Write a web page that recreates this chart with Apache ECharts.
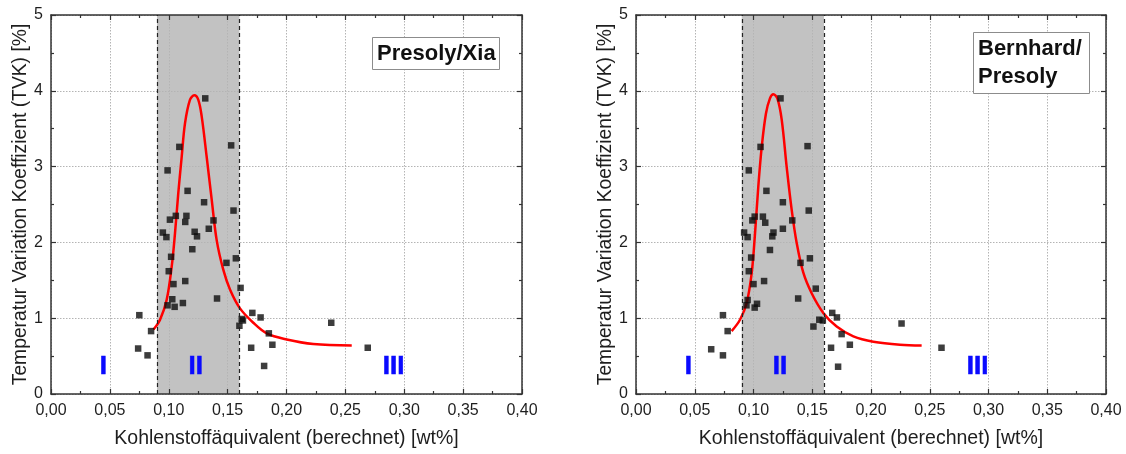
<!DOCTYPE html>
<html>
<head>
<meta charset="utf-8">
<style>
  html, body { margin: 0; padding: 0; background: #fff; }
  #chart { width: 1126px; height: 454px; }
</style>
<script src="https://cdn.jsdelivr.net/npm/echarts@6/dist/echarts.min.js"></script>
</head>
<body>
<div id="chart"></div>
<script>
// Measured points: left panel (Presoly/Xia)
const leftX = [0.131,0.109,0.153,0.099,0.116,0.130,0.155,0.101,0.106,0.115,0.114,0.138,0.134,0.095,0.098,0.122,0.124,0.120,0.102,0.157,0.149,0.100,0.114,0.104,0.161,0.141,0.103,0.099,0.105,0.112,0.075,0.171,0.178,0.162,0.163,0.160,0.085,0.185,0.238,0.188,0.170,0.269,0.074,0.082,0.181];
const leftY = [3.90,3.26,3.28,2.95,2.68,2.53,2.42,2.30,2.35,2.35,2.27,2.29,2.18,2.13,2.07,2.14,2.08,1.91,1.81,1.79,1.73,1.62,1.49,1.45,1.40,1.26,1.25,1.17,1.15,1.20,1.04,1.07,1.01,0.99,0.97,0.90,0.83,0.80,0.94,0.65,0.61,0.61,0.60,0.51,0.37];

// Measured points: right panel (Bernhard/Presoly)
const rightX = [0.123,0.106,0.146,0.096,0.111,0.125,0.147,0.099,0.101,0.108,0.110,0.133,0.125,0.092,0.095,0.117,0.116,0.114,0.098,0.148,0.140,0.096,0.109,0.100,0.153,0.138,0.095,0.094,0.101,0.103,0.074,0.167,0.171,0.156,0.159,0.151,0.078,0.175,0.226,0.182,0.166,0.260,0.064,0.074,0.172];
const rightY = [3.90,3.26,3.27,2.95,2.68,2.53,2.42,2.29,2.34,2.34,2.26,2.29,2.18,2.13,2.07,2.13,2.08,1.90,1.80,1.79,1.73,1.62,1.49,1.45,1.39,1.26,1.24,1.17,1.14,1.19,1.04,1.07,1.01,0.98,0.97,0.89,0.83,0.79,0.93,0.65,0.61,0.61,0.59,0.51,0.36];

// Fitted peak curves
const leftFitX = [0.087,0.0926,0.0982,0.1025,0.1053,0.1081,0.111,0.1138,0.118,0.1217,0.1251,0.128,0.1322,0.1365,0.1407,0.1463,0.152,0.1605,0.1718,0.1832,0.2002,0.2228,0.2554];
const leftFitY = [0.85,0.98,1.24,1.68,2.12,2.65,3.13,3.57,3.88,3.94,3.88,3.66,3.13,2.56,2.03,1.64,1.38,1.13,0.94,0.80,0.72,0.66,0.64];
const rightFitX = [0.0814,0.0885,0.0942,0.0985,0.1013,0.1041,0.107,0.1106,0.114,0.1169,0.1203,0.124,0.1282,0.1325,0.1368,0.1424,0.1495,0.1594,0.1708,0.185,0.202,0.2247,0.2431];
const rightFitY = [0.83,0.98,1.20,1.60,2.12,2.74,3.26,3.70,3.90,3.955,3.90,3.62,3.00,2.43,1.99,1.60,1.33,1.07,0.89,0.76,0.69,0.65,0.64];

// Zone II band and zone labels
const bandRange = [0.09, 0.16];
const zoneNames = ['I', 'II', 'III'];
const leftZoneX = [0.0445, 0.123, 0.291];
const rightZoneX = [0.0446, 0.1226, 0.2908];
const zoneY = 0.36;

const panelTitles = ['Presoly/Xia', 'Bernhard/\nPresoly'];
const xTitle = 'Kohlenstoffäquivalent (berechnet) [wt%]';
const yTitle = 'Temperatur Variation Koeffizient (TVK) [%]';

const FONT = '"Liberation Sans", Arial, sans-serif';
const TEXT = '#1e1e1e';
const AXIS = '#333';

function zip(a, b) { return a.map((v, i) => [v, b[i]]); }

function xAxisMain(gi) {
  return {
    gridIndex: gi, type: 'value', min: 0, max: 0.4, interval: 0.05, z: 2,
    name: xTitle, nameLocation: 'middle', nameGap: 35,
    nameTextStyle: { fontFamily: FONT, fontSize: 19.5, color: TEXT },
    axisLine: { onZero: false, lineStyle: { color: AXIS, width: 1.5 } },
    axisTick: { inside: true, length: 5, lineStyle: { color: AXIS, width: 1.2 } },
    minorTick: { show: true, splitNumber: 2, length: 3, lineStyle: { color: AXIS, width: 1.2 } },
    axisLabel: { fontFamily: FONT, fontSize: 16, color: TEXT, margin: 9,
      formatter: v => v.toFixed(2).replace('.', ',') },
    splitLine: { show: true, lineStyle: { color: '#b4b4b4', type: [1.5, 1.5], width: 1 } }
  };
}
function xAxisMirror(gi) {
  return {
    gridIndex: gi, type: 'value', min: 0, max: 0.4, interval: 0.05, position: 'top', z: 2,
    axisLine: { onZero: false, lineStyle: { color: AXIS, width: 1.5 } },
    axisTick: { inside: true, length: 5, lineStyle: { color: AXIS, width: 1.2 } },
    minorTick: { show: true, splitNumber: 2, length: 3, lineStyle: { color: AXIS, width: 1.2 } },
    axisLabel: { show: false }, splitLine: { show: false }
  };
}
function yAxisMain(gi) {
  return {
    gridIndex: gi, type: 'value', min: 0, max: 5, interval: 1, z: 2,
    name: yTitle, nameLocation: 'middle', nameGap: 21,
    nameTextStyle: { fontFamily: FONT, fontSize: 19.3, color: TEXT },
    axisLine: { show: true, onZero: false, lineStyle: { color: AXIS, width: 1.5 } },
    axisTick: { show: true, inside: true, length: 5, lineStyle: { color: AXIS, width: 1.2 } },
    minorTick: { show: true, splitNumber: 2, length: 3, lineStyle: { color: AXIS, width: 1.2 } },
    axisLabel: { fontFamily: FONT, fontSize: 16, color: TEXT, margin: 8 },
    splitLine: { show: true, lineStyle: { color: '#b4b4b4', type: [1.5, 1.5], width: 1 } }
  };
}
function yAxisMirror(gi) {
  return {
    gridIndex: gi, type: 'value', min: 0, max: 5, interval: 1, position: 'right', z: 2,
    axisLine: { show: true, onZero: false, lineStyle: { color: AXIS, width: 1.5 } },
    axisTick: { show: true, inside: true, length: 5, lineStyle: { color: AXIS, width: 1.2 } },
    minorTick: { show: true, splitNumber: 2, length: 3, lineStyle: { color: AXIS, width: 1.2 } },
    axisLabel: { show: false }, splitLine: { show: false }
  };
}

function panelSeries(xi, yi, px, py, fx, fy, zx) {
  return [
    {
      // zone II band with its dashed limits
      type: 'line', xAxisIndex: xi, yAxisIndex: yi, data: [], z: 1, silent: true,
      markArea: {
        silent: true,
        itemStyle: { color: '#c2c2c2' },
        data: [[{ xAxis: bandRange[0] }, { xAxis: bandRange[1] }]]
      },
      markLine: {
        silent: true, symbol: 'none', label: { show: false },
        lineStyle: { color: '#222', type: [4, 3], width: 1.2 },
        data: bandRange.map(v => ({ xAxis: v }))
      }
    },
    {
      type: 'line', xAxisIndex: xi, yAxisIndex: yi, z: 3,
      data: zip(fx, fy), smooth: 0.35, showSymbol: false, silent: true,
      lineStyle: { color: '#ff0000', width: 2.5 }
    },
    {
      type: 'scatter', xAxisIndex: xi, yAxisIndex: yi, z: 4,
      data: zip(px, py), symbol: 'rect', symbolSize: 6.5,
      itemStyle: { color: '#0d0d0d' }
    },
    {
      type: 'scatter', xAxisIndex: xi, yAxisIndex: yi, z: 4, silent: true,
      symbolSize: 0, itemStyle: { color: '#0a0aff', opacity: 1 },
      data: zoneNames.map((n, i) => ({ name: n, value: [zx[i], zoneY] })),
      label: { show: true, position: 'inside', formatter: p => p.name, opacity: 1,
        fontFamily: '"Liberation Sans", "DejaVu Sans", sans-serif', fontWeight: 900,
        fontSize: 26, color: '#0a0aff', textBorderColor: '#0a0aff', textBorderWidth: 0.6 }
    }
  ];
}

const chart = echarts.init(document.getElementById('chart'), null, { renderer: 'canvas' });
chart.setOption({
  animation: false,
  backgroundColor: '#fff',
  title: [
    { text: panelTitles[0], left: 372, top: 37, padding: [4, 4, 3, 5],
      backgroundColor: '#fff', borderColor: '#8c8c8c', borderWidth: 1,
      textStyle: { fontFamily: FONT, fontSize: 22, fontWeight: 'bold', color: '#111', lineHeight: 26 } },
    { text: panelTitles[1], left: 973, top: 32, padding: [3, 8, 3, 5],
      backgroundColor: '#fff', borderColor: '#8c8c8c', borderWidth: 1,
      textStyle: { fontFamily: FONT, fontSize: 22, fontWeight: 'bold', color: '#111', lineHeight: 28 } }
  ],
  grid: [
    { left: 51, top: 15, width: 471, height: 379 },
    { left: 636, top: 15, width: 470, height: 379 }
  ],
  xAxis: [xAxisMain(0), xAxisMirror(0), xAxisMain(1), xAxisMirror(1)],
  yAxis: [yAxisMain(0), yAxisMirror(0), yAxisMain(1), yAxisMirror(1)],
  series: [
    ...panelSeries(0, 0, leftX, leftY, leftFitX, leftFitY, leftZoneX),
    ...panelSeries(2, 2, rightX, rightY, rightFitX, rightFitY, rightZoneX)
  ]
});
</script>
</body>
</html>
